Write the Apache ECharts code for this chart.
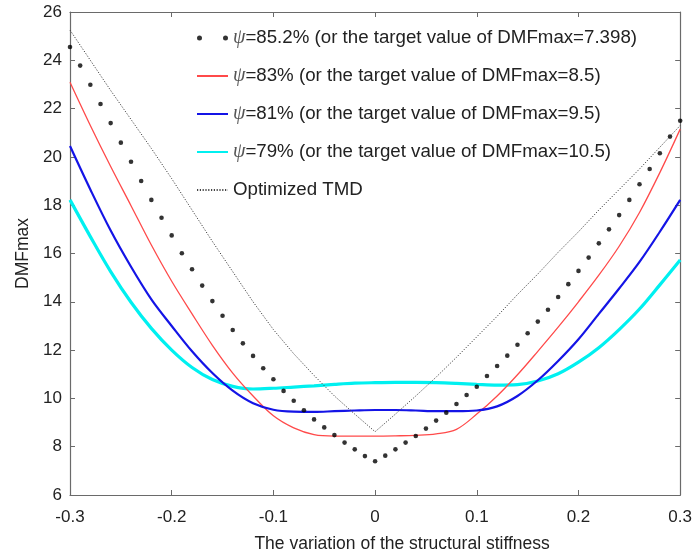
<!DOCTYPE html>
<html>
<head>
<meta charset="utf-8">
<script src="https://cdn.jsdelivr.net/npm/echarts@6/dist/echarts.min.js"></script>
<style>html,body{margin:0;padding:0;background:#fff;}#c{width:695px;height:560px;}</style>
</head>
<body>
<div id="c"></div>
<script>
// x positions of the dotted (psi=85.2%) markers
const xDots = [-0.30,-0.29,-0.28,-0.27,-0.26,-0.25,-0.24,-0.23,-0.22,-0.21,-0.20,-0.19,-0.18,-0.17,-0.16,-0.15,-0.14,-0.13,-0.12,-0.11,-0.10,-0.09,-0.08,-0.07,-0.06,-0.05,-0.04,-0.03,-0.02,-0.01,0.00,0.01,0.02,0.03,0.04,0.05,0.06,0.07,0.08,0.09,0.10,0.11,0.12,0.13,0.14,0.15,0.16,0.17,0.18,0.19,0.20,0.21,0.22,0.23,0.24,0.25,0.26,0.27,0.28,0.29,0.30];
const psi852 = [24.55,23.78,22.99,22.19,21.40,20.59,19.80,19.00,18.22,17.48,16.75,16.01,15.35,14.67,14.03,13.42,12.83,12.28,11.76,11.25,10.79,10.31,9.90,9.51,9.13,8.80,8.48,8.17,7.89,7.61,7.40,7.63,7.89,8.17,8.44,8.75,9.08,9.41,9.77,10.14,10.48,10.93,11.34,11.77,12.22,12.70,13.18,13.67,14.20,14.73,15.28,15.83,16.42,17.00,17.59,18.22,18.87,19.50,20.15,20.84,21.50];
// x positions of the solid / dotted curves
const xLine = [-0.30,-0.28,-0.26,-0.24,-0.22,-0.20,-0.18,-0.16,-0.14,-0.12,-0.10,-0.08,-0.06,-0.04,-0.02,0.00,0.02,0.04,0.06,0.08,0.10,0.12,0.14,0.16,0.18,0.20,0.22,0.24,0.26,0.28,0.30];
const psi83 = [23.09,21.30,19.60,17.98,16.35,14.85,13.50,12.20,11.05,10.10,9.28,8.78,8.50,8.44,8.44,8.44,8.45,8.47,8.53,8.72,9.35,10.10,10.98,11.95,12.95,14.00,15.10,16.30,17.70,19.35,21.15];
const psi81 = [20.45,18.65,16.95,15.45,14.10,13.00,11.95,11.05,10.32,9.80,9.53,9.45,9.44,9.47,9.50,9.52,9.52,9.50,9.47,9.47,9.50,9.67,10.10,10.75,11.55,12.45,13.50,14.55,15.65,16.90,18.22];
const psi79 = [18.22,16.70,15.25,13.98,12.90,12.00,11.28,10.78,10.50,10.39,10.42,10.47,10.52,10.58,10.63,10.65,10.66,10.66,10.65,10.62,10.58,10.55,10.57,10.72,11.02,11.50,12.10,12.85,13.70,14.70,15.73];
const tmd = [25.25,24.00,22.75,21.55,20.35,19.10,17.80,16.50,15.25,14.00,12.85,11.85,10.95,10.10,9.35,8.62,9.35,10.10,10.88,11.70,12.55,13.40,14.30,15.15,16.05,16.90,17.80,18.65,19.50,20.40,21.30];

const xTickLabels = ['-0.3','-0.2','-0.1','0','0.1','0.2','0.3'];
const yTickLabels = ['6','8','10','12','14','16','18','20','22','24','26'];
const legendLabels = {
  s852: '{p|\u03c8}=85.2% (or the target value of DMFmax=7.398)',
  s83: '{p|\u03c8}=83% (or the target value of DMFmax=8.5)',
  s81: '{p|\u03c8}=81% (or the target value of DMFmax=9.5)',
  s79: '{p|\u03c8}=79% (or the target value of DMFmax=10.5)',
  tmd: 'Optimized TMD'
};
const xName = 'The variation of the structural stiffness';
const yName = 'DMFmax';

const pair = (xs, ys) => xs.map((x, i) => [x, ys[i]]);
const FONT = 'Liberation Sans, Arial, sans-serif';
const axisCol = '#6a6a6a';
const txtCol = '#222';

function xLab(v) {
  const idx = Math.round((v + 0.3) / 0.1);
  return xTickLabels[idx] !== undefined ? xTickLabels[idx] : '';
}
function yLab(v) {
  const idx = Math.round((v - 6) / 2);
  return yTickLabels[idx] !== undefined ? yTickLabels[idx] : '';
}

const baseAxis = {
  axisLine: {show: true, onZero: false, lineStyle: {color: axisCol, width: 1.2}},
  axisTick: {show: true, inside: true, length: 5, lineStyle: {color: axisCol}},
  splitLine: {show: false}
};

const chart = echarts.init(document.getElementById('c'), null, {renderer: 'canvas'});
chart.setOption({
  backgroundColor: '#fff',
  animation: false,
  grid: {left: 70, right: 13, top: 12, bottom: 65},
  xAxis: [
    Object.assign({}, baseAxis, {
      type: 'value', min: -0.3, max: 0.3, interval: 0.1, position: 'bottom',
      axisLabel: {formatter: xLab, color: txtCol, fontFamily: FONT, fontSize: 17, margin: 14},
      name: xName, nameLocation: 'middle', nameGap: 40,
      nameTextStyle: {color: txtCol, fontFamily: FONT, fontSize: 17.5, padding: [0, 0, 0, 54]}
    }),
    Object.assign({}, baseAxis, {
      type: 'value', min: -0.3, max: 0.3, interval: 0.1, position: 'top',
      axisLabel: {show: false}
    })
  ],
  yAxis: [
    Object.assign({}, baseAxis, {
      type: 'value', min: 6, max: 26, interval: 2, position: 'left',
      axisLabel: {formatter: yLab, color: txtCol, fontFamily: FONT, fontSize: 17, margin: 8},
      name: yName, nameLocation: 'middle', nameGap: 38, nameRotate: 90,
      nameTextStyle: {color: txtCol, fontFamily: FONT, fontSize: 17.5}
    }),
    Object.assign({}, baseAxis, {
      type: 'value', min: 6, max: 26, interval: 2, position: 'right',
      axisLabel: {show: false}
    })
  ],
  legend: {
    orient: 'vertical', left: 191, top: 23,
    itemWidth: 31, itemHeight: 5, itemGap: 18,
    selectedMode: false,
    formatter: n => legendLabels[n],
    textStyle: {
      color: txtCol, fontFamily: FONT, fontSize: 18.7, lineHeight: 20, padding: [0, 0, 0, 0],
      rich: {p: {fontFamily: 'Liberation Serif, Times New Roman, serif', fontStyle: 'italic', fontSize: 20, color: '#555'}}
    },
    data: [
      {name: 's852', icon: 'path://M0,2.5a2.5,2.5 0 1,0 5,0a2.5,2.5 0 1,0 -5,0zM26,2.5a2.5,2.5 0 1,0 5,0a2.5,2.5 0 1,0 -5,0z'},
      {name: 's83', itemStyle: {opacity: 0}},
      {name: 's81', itemStyle: {opacity: 0}},
      {name: 's79', itemStyle: {opacity: 0}},
      {name: 'tmd', itemStyle: {opacity: 0}}
    ]
  },
  series: [
    {name: 's852', type: 'scatter', data: pair(xDots, psi852), symbol: 'circle', symbolSize: 4.6,
     itemStyle: {color: '#000'}, z: 5},
    {name: 's83', type: 'line', data: pair(xLine, psi83), smooth: 0.35, symbol: 'none',
     lineStyle: {color: '#ff4a4a', width: 1.3}, itemStyle: {color: '#ff4a4a'}, z: 3},
    {name: 's81', type: 'line', data: pair(xLine, psi81), smooth: 0.35, symbol: 'none',
     lineStyle: {color: '#1414e6', width: 2.2}, itemStyle: {color: '#1414e6'}, z: 3},
    {name: 's79', type: 'line', data: pair(xLine, psi79), smooth: 0.35, symbol: 'none',
     lineStyle: {color: '#00f0f0', width: 3.2}, itemStyle: {color: '#00f0f0'}, z: 2},
    {name: 'tmd', type: 'line', data: pair(xLine, tmd), smooth: false, symbol: 'none',
     lineStyle: {color: '#444', width: 1, type: [1.2, 1.6]}, itemStyle: {color: '#444'}, z: 4}
  ]
});
</script>
</body>
</html>
